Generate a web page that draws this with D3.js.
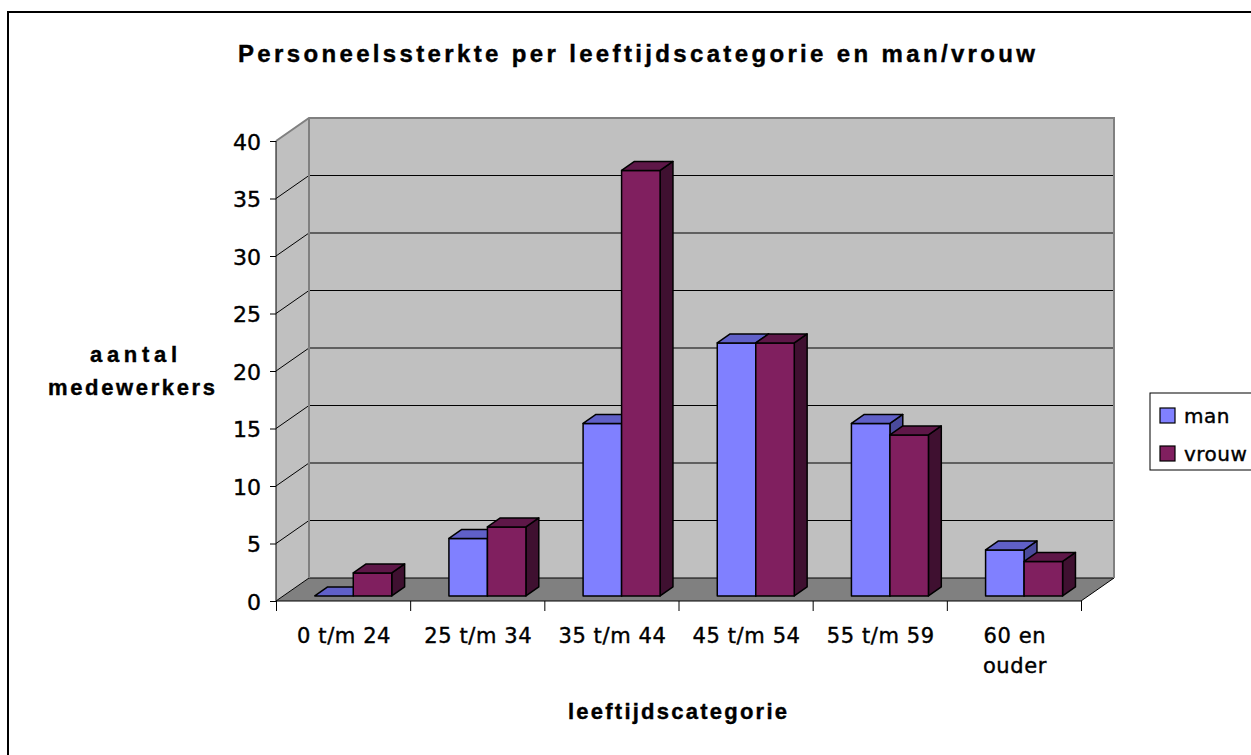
<!DOCTYPE html>
<html>
<head>
<meta charset="utf-8">
<script src="https://cdn.jsdelivr.net/npm/d3@7"></script>
<style>
  body { margin: 0; background: #fff; }
  svg { display: block; font-family: "Liberation Sans", Arial, sans-serif; }
  .lbl { font-family: "DejaVu Sans", sans-serif; fill: #000; stroke: #000; stroke-width: 0.4px; }
  .ttl { font-weight: bold; fill: #000; stroke: #000; stroke-width: 0.4px; }
</style>
</head>
<body>
<svg id="chart" width="1251" height="755"></svg>
<script>
// data
const categories = ["0 t/m 24", "25 t/m 34", "35 t/m 44", "45 t/m 54", "55 t/m 59", "60 en\nouder"];
const series = ["man", "vrouw"];
const man = [0, 5, 15, 22, 15, 4];
const vrouw = [2, 6, 37, 22, 14, 3];
const yTicks = [0, 5, 10, 15, 20, 25, 30, 35, 40];

const values = { man: man, vrouw: vrouw };
const faces = {
  man:   { front: "#8080ff", top: "#6060c8", side: "#4a4a9c" },
  vrouw: { front: "#801f5f", top: "#5e1748", side: "#3f1030" }
};

// plot geometry (front plane) and depth offset
const left = 276, right = 1081;
const DX = 33, DY = 23;
const t0 = 0.22, t1 = 0.61;

const svg = d3.select("#chart");

const y = d3.scaleLinear().domain([0, 40]).range([601, 141]);
const x = d3.scaleBand().domain(categories).range([left, right]);
const xs = d3.scaleBand().domain(series).range([31.5, 31.5 + 77]);
const xEdge = d3.scaleLinear().domain([0, categories.length]).range([left, right]);

// project a point: x on front plane, value, depth fraction
function P(px, v, t) {
  return [px + t * DX, y(v) - t * DY];
}
const poly = pts => "M" + pts.map(p => p.join(",")).join("L") + "Z";

// outer border
svg.append("rect")
    .attr("x", 8).attr("y", 12)
    .attr("width", 1260).attr("height", 760)
    .attr("fill", "none").attr("stroke", "#000").attr("stroke-width", 2);

// title
svg.append("text")
    .attr("class", "ttl")
    .attr("x", 238).attr("y", 62)
    .attr("textLength", 797).attr("lengthAdjust", "spacing")
    .style("font-size", "24px")
    .text("Personeelssterkte per leeftijdscategorie en man/vrouw");

// walls
const walls = svg.append("g");
walls.append("path")
    .attr("d", poly([P(left, 0, 0), P(left, 40, 0), P(left, 40, 1), P(left, 0, 1)]))
    .attr("fill", "#c0c0c0");
walls.append("path")
    .attr("d", poly([P(left, 0, 1), P(left, 40, 1), P(right, 40, 1), P(right, 0, 1)]))
    .attr("fill", "#c0c0c0");
walls.append("path")
    .attr("d", poly([P(left, 0, 0), P(right, 0, 0), P(right, 0, 1), P(left, 0, 1)]))
    .attr("fill", "#808080");

// gridlines on back and side walls
const grid = svg.append("g").attr("stroke", "#000").attr("stroke-width", 1).attr("fill", "none");
yTicks.filter(v => v < 40).forEach(v => {
  grid.append("path").attr("d", "M" + P(left, v, 0) + "L" + P(left, v, 1) + "L" + P(right, v, 1));
});
grid.append("path").attr("d", "M" + P(right, 0, 0) + "L" + P(right, 0, 1));

// wall edges
const edges = svg.append("g").attr("stroke", "#808080").attr("stroke-width", 2).attr("fill", "none");
edges.append("path").attr("d", "M" + P(left, 40, 0) + "L" + P(left, 40, 1) + "L" + P(right, 40, 1) + "L" + P(right, 0, 1));
edges.append("path").attr("d", "M" + P(left, 40, 1) + "L" + P(left, 0, 1));

// bars
const bars = svg.append("g").attr("stroke", "#000").attr("stroke-width", 1.5).attr("stroke-linejoin", "round");
categories.forEach((c, i) => {
  series.forEach(s => {
    const v = values[s][i];
    const xl = x(c) + xs(s), xr = xl + xs.bandwidth();
    const g = bars.append("g");
    if (v > 0) {
      g.append("path").attr("fill", faces[s].side)
        .attr("d", poly([P(xr, 0, t0), P(xr, 0, t1), P(xr, v, t1), P(xr, v, t0)]));
      g.append("path").attr("fill", faces[s].front)
        .attr("d", poly([P(xl, 0, t0), P(xr, 0, t0), P(xr, v, t0), P(xl, v, t0)]));
    }
    g.append("path").attr("fill", faces[s].top)
      .attr("d", poly([P(xl, v, t0), P(xr, v, t0), P(xr, v, t1), P(xl, v, t1)]));
  });
});

// y axis
const yAxis = svg.append("g")
    .attr("transform", `translate(${left},0)`)
    .call(d3.axisLeft(y).tickValues(yTicks).tickSize(6).tickPadding(9));
yAxis.select(".domain").attr("stroke", "#000").attr("d", `M0,${y(40)}V${y(0)}`);
yAxis.selectAll(".tick line").attr("stroke", "#000");
yAxis.selectAll(".tick text")
    .attr("class", "lbl").attr("dy", "0.37em")
    .style("font-size", "22px");

// x axis: ticks at category boundaries
const xAxis = svg.append("g")
    .attr("transform", `translate(0,${y(0)})`)
    .call(d3.axisBottom(xEdge).ticks(categories.length).tickSize(10).tickFormat(""));
xAxis.select(".domain").attr("stroke", "#000").attr("d", `M${left},0H${right}`);
xAxis.selectAll(".tick line").attr("stroke", "#000");

// category labels
svg.append("g").selectAll("text")
  .data(categories)
  .join("text")
    .attr("class", "lbl")
    .attr("text-anchor", "middle")
    .attr("y", 643)
    .style("font-size", "21px").style("letter-spacing", "0.6px")
    .each(function(d) {
      d.split("\n").forEach((line, k) => {
        d3.select(this).append("tspan")
          .attr("x", x(d) + x.bandwidth() / 2 + 1)
          .attr("dy", k === 0 ? 0 : 30)
          .text(line);
      });
    });

// axis titles
svg.append("text")
    .attr("class", "ttl")
    .attr("x", 568).attr("y", 719)
    .attr("textLength", 219).attr("lengthAdjust", "spacing")
    .style("font-size", "22px")
    .text("leeftijdscategorie");
svg.append("text")
    .attr("class", "ttl")
    .attr("x", 90).attr("y", 362)
    .attr("textLength", 87).attr("lengthAdjust", "spacing")
    .style("font-size", "22px")
    .text("aantal");
svg.append("text")
    .attr("class", "ttl")
    .attr("x", 48).attr("y", 395)
    .attr("textLength", 167).attr("lengthAdjust", "spacing")
    .style("font-size", "22px")
    .text("medewerkers");

// legend
const legend = svg.append("g");
legend.append("rect")
    .attr("x", 1150).attr("y", 393).attr("width", 120).attr("height", 77)
    .attr("fill", "#fff").attr("stroke", "#000").attr("stroke-width", 1);
const legendY = d3.scalePoint().domain(series).range([416, 454]);
series.forEach(s => {
  legend.append("rect")
      .attr("x", 1160).attr("y", legendY(s) - 8).attr("width", 15).attr("height", 15)
      .attr("fill", faces[s].front).attr("stroke", "#000").attr("stroke-width", 1.2);
  legend.append("text")
      .attr("class", "lbl")
      .attr("x", 1184).attr("y", legendY(s) + 7)
      .style("font-size", "20px").style("letter-spacing", "0.5px")
      .text(s);
});
</script>
</body>
</html>
